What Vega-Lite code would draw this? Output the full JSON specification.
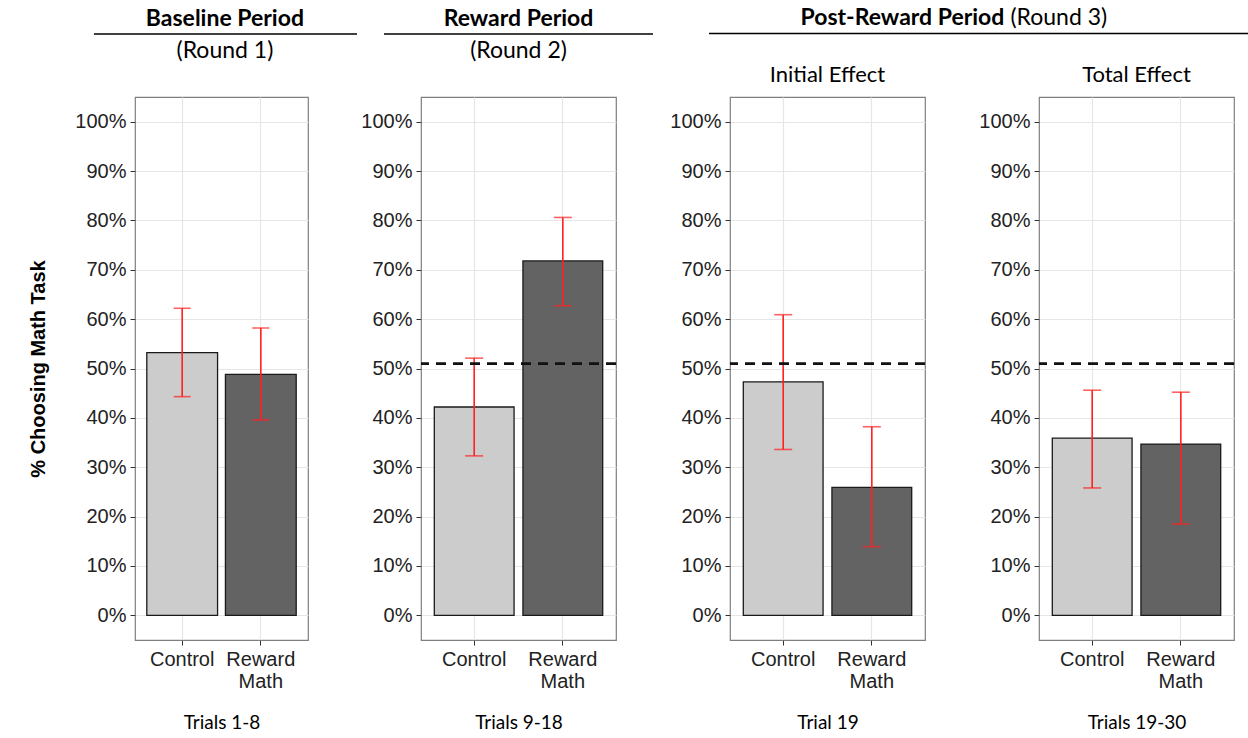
{
  "$schema": "https://vega.github.io/schema/vega-lite/v6.json",
  "padding": {"left": 28, "top": 5, "right": 5, "bottom": 5},
  "background": "white",
  "datasets": {
    "bars": [
      {"panel": "p1", "group": "Control", "pct": 0.532, "lo": 0.443, "hi": 0.622},
      {"panel": "p1", "group": "Reward Math", "pct": 0.488, "lo": 0.396, "hi": 0.582},
      {"panel": "p2", "group": "Control", "pct": 0.422, "lo": 0.323, "hi": 0.521},
      {"panel": "p2", "group": "Reward Math", "pct": 0.718, "lo": 0.627, "hi": 0.806},
      {"panel": "p3", "group": "Control", "pct": 0.473, "lo": 0.336, "hi": 0.609},
      {"panel": "p3", "group": "Reward Math", "pct": 0.259, "lo": 0.139, "hi": 0.382},
      {"panel": "p4", "group": "Control", "pct": 0.359, "lo": 0.258, "hi": 0.456},
      {"panel": "p4", "group": "Reward Math", "pct": 0.347, "lo": 0.185, "hi": 0.452}
    ],
    "baseline": [
      {"panel": "p2", "value": 0.51},
      {"panel": "p3", "value": 0.51},
      {"panel": "p4", "value": 0.51}
    ],
    "one": [{}]
  },
  "config": {
    "font": "Liberation Sans",
    "view": {"stroke": "#7f7f7f", "strokeWidth": 1.2},
    "axis": {
      "domain": false,
      "labelFont": "Liberation Sans",
      "labelFontSize": 20,
      "labelColor": "#222222",
      "tickColor": "#333333",
      "tickSize": 5,
      "tickWidth": 1,
      "labelPadding": 3,
      "gridColor": "#e6e6e6",
      "gridWidth": 1.2
    },
    "title": {"font": "Lato", "fontSize": 22, "fontWeight": "normal", "color": "#000000", "anchor": "middle", "frame": "group", "offset": 10}
  },
  "vconcat": [
    {
      "hconcat": [
        {
          "hconcat": [
            {
              "width": 222, "height": 57,
              "view": {"stroke": null},
              "data": {"name": "one"},
              "layer": [
                {"mark": {"type": "text", "font": "Lato", "fontSize": 23, "fontWeight": "bold", "color": "#000", "baseline": "middle"},
                 "encoding": {"text": {"value": "Baseline Period"}, "x": {"datum": 0.405, "type": "quantitative", "scale": {"domain": [0, 1]}, "axis": null}, "y": {"datum": 0.76, "type": "quantitative", "scale": {"domain": [0, 1]}, "axis": null}}},
                {"mark": {"type": "rule", "color": "#000", "strokeWidth": 1.5},
                 "encoding": {"x": {"datum": -0.185, "type": "quantitative", "scale": {"domain": [0, 1]}, "axis": null}, "x2": {"datum": 1}, "y": {"datum": 0.49, "type": "quantitative", "scale": {"domain": [0, 1]}, "axis": null}}},
                {"mark": {"type": "text", "font": "Lato", "fontSize": 23, "color": "#000", "baseline": "middle"},
                 "encoding": {"text": {"value": "(Round 1)"}, "x": {"datum": 0.405, "type": "quantitative", "scale": {"domain": [0, 1]}, "axis": null}, "y": {"datum": 0.2, "type": "quantitative", "scale": {"domain": [0, 1]}, "axis": null}}}
              ]
            },
            {
              "width": 269, "height": 57,
              "view": {"stroke": null},
              "data": {"name": "one"},
              "layer": [
                {"mark": {"type": "text", "font": "Lato", "fontSize": 23, "fontWeight": "bold", "color": "#000", "baseline": "middle"},
                 "encoding": {"text": {"value": "Reward Period"}, "x": {"datum": 0.5, "type": "quantitative", "scale": {"domain": [0, 1]}, "axis": null}, "y": {"datum": 0.76, "type": "quantitative", "scale": {"domain": [0, 1]}, "axis": null}}},
                {"mark": {"type": "rule", "color": "#000", "strokeWidth": 1.5},
                 "encoding": {"x": {"datum": 0, "type": "quantitative", "scale": {"domain": [0, 1]}, "axis": null}, "x2": {"datum": 1}, "y": {"datum": 0.49, "type": "quantitative", "scale": {"domain": [0, 1]}, "axis": null}}},
                {"mark": {"type": "text", "font": "Lato", "fontSize": 23, "color": "#000", "baseline": "middle"},
                 "encoding": {"text": {"value": "(Round 2)"}, "x": {"datum": 0.5, "type": "quantitative", "scale": {"domain": [0, 1]}, "axis": null}, "y": {"datum": 0.2, "type": "quantitative", "scale": {"domain": [0, 1]}, "axis": null}}}
              ]
            }
          ],
          "spacing": 25
        },
        {
          "width": 542, "height": 57,
          "view": {"stroke": null},
          "data": {"name": "one"},
          "layer": [
            {"mark": {"type": "text", "font": "Lato", "fontSize": 23, "fontWeight": "bold", "color": "#000", "baseline": "middle", "align": "right"},
             "encoding": {"text": {"value": "Post-Reward Period"}, "x": {"datum": 0.545, "type": "quantitative", "scale": {"domain": [0, 1]}, "axis": null}, "y": {"datum": 0.77, "type": "quantitative", "scale": {"domain": [0, 1]}, "axis": null}}},
            {"mark": {"type": "text", "font": "Lato", "fontSize": 23, "color": "#000", "baseline": "middle", "align": "left", "dx": 6},
             "encoding": {"text": {"value": "(Round 3)"}, "x": {"datum": 0.545, "type": "quantitative", "scale": {"domain": [0, 1]}, "axis": null}, "y": {"datum": 0.77, "type": "quantitative", "scale": {"domain": [0, 1]}, "axis": null}}},
            {"mark": {"type": "rule", "color": "#000", "strokeWidth": 1.5},
             "encoding": {"x": {"datum": 0, "type": "quantitative", "scale": {"domain": [0, 1]}, "axis": null}, "x2": {"datum": 1}, "y": {"datum": 0.5, "type": "quantitative", "scale": {"domain": [0, 1]}, "axis": null}}}
          ]
        }
      ],
      "spacing": 54
    },
    {
      "hconcat": [
        {
          "width": 173, "height": 543,
          "data": {"name": "bars"},
          "transform": [{"filter": "datum.panel == 'p1'"}],
          "layer": [
            {"mark": {"type": "bar", "stroke": "#1a1a1a", "strokeWidth": 1.3},
             "encoding": {
               "x": {"field": "group", "type": "nominal", "sort": ["Control", "Reward Math"], "scale": {"paddingInner": 0.1, "paddingOuter": 0.15},
                     "axis": {"title": "Trials 1-8", "labelAngle": 0, "labelOverlap": false, "labelBound": false, "labelLineHeight": 22, "labelBaseline": "top", "labelPadding": 4, "bandPosition": 0.5, "grid": true, "labelExpr": "datum.label == 'Reward Math' ? ['Reward', 'Math'] : datum.label", "titleFont": "Lato", "titleFontWeight": "normal", "titleFontSize": 19, "titleColor": "#000", "titlePadding": 22}},
               "y": {"field": "pct", "type": "quantitative", "title": "% Choosing Math Task", "scale": {"domain": [-0.05, 1.05], "nice": false, "zero": false},
                     "axis": {"values": [0, 0.05, 0.1, 0.15, 0.2, 0.25, 0.3, 0.35, 0.4, 0.45, 0.5, 0.55, 0.6, 0.65, 0.7, 0.75, 0.8, 0.85, 0.9, 0.95, 1.0],
                              "labelExpr": "round(datum.value*100) % 10 == 0 ? format(datum.value, '.0%') : ''",
                              "tickOpacity": {"condition": {"test": "round(datum.value*100) % 10 != 0", "value": 0}, "value": 1},
                              "gridWidth": {"condition": {"test": "round(datum.value*100) % 10 != 0", "value": 0.6}, "value": 1.2},
                              "gridColor": {"condition": {"test": "round(datum.value*100) % 10 != 0", "value": "#f0f0f0"}, "value": "#e6e6e6"},
                              "labelPadding": 4,
                              "titleFont": "Liberation Sans", "titleFontWeight": "bold", "titleFontSize": 20, "titleColor": "#000", "titlePadding": 26}},
               "y2": {"datum": 0},
               "fill": {"field": "group", "type": "nominal", "scale": {"domain": ["Control", "Reward Math"], "range": ["#cccccc", "#636363"]}, "legend": null}
             }},
            {"mark": {"type": "errorbar", "color": "#ff2020", "thickness": 1.6, "ticks": {"size": 17, "thickness": 1.6, "color": "#ff2020"}},
             "encoding": {
               "x": {"field": "group", "type": "nominal", "sort": ["Control", "Reward Math"]},
               "y": {"field": "lo", "type": "quantitative", "title": "% Choosing Math Task"},
               "y2": {"field": "hi"}
             }}
          ]
        },
        {
          "width": 195, "height": 543,
          "data": {"name": "bars"},
          "transform": [{"filter": "datum.panel == 'p2'"}],
          "layer": [
            {"mark": {"type": "bar", "stroke": "#1a1a1a", "strokeWidth": 1.3},
             "encoding": {
               "x": {"field": "group", "type": "nominal", "sort": ["Control", "Reward Math"], "scale": {"paddingInner": 0.1, "paddingOuter": 0.15},
                     "axis": {"title": "Trials 9-18", "labelAngle": 0, "labelOverlap": false, "labelBound": false, "labelLineHeight": 22, "labelBaseline": "top", "labelPadding": 4, "bandPosition": 0.5, "grid": true, "labelExpr": "datum.label == 'Reward Math' ? ['Reward', 'Math'] : datum.label", "titleFont": "Lato", "titleFontWeight": "normal", "titleFontSize": 19, "titleColor": "#000", "titlePadding": 22}},
               "y": {"field": "pct", "type": "quantitative", "title": null, "scale": {"domain": [-0.05, 1.05], "nice": false, "zero": false},
                     "axis": {"values": [0, 0.05, 0.1, 0.15, 0.2, 0.25, 0.3, 0.35, 0.4, 0.45, 0.5, 0.55, 0.6, 0.65, 0.7, 0.75, 0.8, 0.85, 0.9, 0.95, 1.0],
                              "labelExpr": "round(datum.value*100) % 10 == 0 ? format(datum.value, '.0%') : ''",
                              "tickOpacity": {"condition": {"test": "round(datum.value*100) % 10 != 0", "value": 0}, "value": 1},
                              "gridWidth": {"condition": {"test": "round(datum.value*100) % 10 != 0", "value": 0.6}, "value": 1.2},
                              "gridColor": {"condition": {"test": "round(datum.value*100) % 10 != 0", "value": "#f0f0f0"}, "value": "#e6e6e6"},
                              "labelPadding": 4}},
               "y2": {"datum": 0},
               "fill": {"field": "group", "type": "nominal", "scale": {"domain": ["Control", "Reward Math"], "range": ["#cccccc", "#636363"]}, "legend": null}
             }},
            {"mark": {"type": "errorbar", "color": "#ff2020", "thickness": 1.6, "ticks": {"size": 18, "thickness": 1.6, "color": "#ff2020"}},
             "encoding": {
               "x": {"field": "group", "type": "nominal", "sort": ["Control", "Reward Math"]},
               "y": {"field": "lo", "type": "quantitative", "title": null},
               "y2": {"field": "hi"}
             }},
            {"data": {"name": "baseline"}, "transform": [{"filter": "datum.panel == 'p2'"}],
             "mark": {"type": "rule", "color": "#111111", "strokeWidth": 2.8, "strokeDash": [10, 7]},
             "encoding": {"y": {"field": "value", "type": "quantitative", "title": null}}}
          ]
        },
        {
          "width": 195, "height": 543,
          "title": "Initial Effect",
          "data": {"name": "bars"},
          "transform": [{"filter": "datum.panel == 'p3'"}],
          "layer": [
            {"mark": {"type": "bar", "stroke": "#1a1a1a", "strokeWidth": 1.3},
             "encoding": {
               "x": {"field": "group", "type": "nominal", "sort": ["Control", "Reward Math"], "scale": {"paddingInner": 0.1, "paddingOuter": 0.15},
                     "axis": {"title": "Trial 19", "labelAngle": 0, "labelOverlap": false, "labelBound": false, "labelLineHeight": 22, "labelBaseline": "top", "labelPadding": 4, "bandPosition": 0.5, "grid": true, "labelExpr": "datum.label == 'Reward Math' ? ['Reward', 'Math'] : datum.label", "titleFont": "Lato", "titleFontWeight": "normal", "titleFontSize": 19, "titleColor": "#000", "titlePadding": 22}},
               "y": {"field": "pct", "type": "quantitative", "title": null, "scale": {"domain": [-0.05, 1.05], "nice": false, "zero": false},
                     "axis": {"values": [0, 0.05, 0.1, 0.15, 0.2, 0.25, 0.3, 0.35, 0.4, 0.45, 0.5, 0.55, 0.6, 0.65, 0.7, 0.75, 0.8, 0.85, 0.9, 0.95, 1.0],
                              "labelExpr": "round(datum.value*100) % 10 == 0 ? format(datum.value, '.0%') : ''",
                              "tickOpacity": {"condition": {"test": "round(datum.value*100) % 10 != 0", "value": 0}, "value": 1},
                              "gridWidth": {"condition": {"test": "round(datum.value*100) % 10 != 0", "value": 0.6}, "value": 1.2},
                              "gridColor": {"condition": {"test": "round(datum.value*100) % 10 != 0", "value": "#f0f0f0"}, "value": "#e6e6e6"},
                              "labelPadding": 4}},
               "y2": {"datum": 0},
               "fill": {"field": "group", "type": "nominal", "scale": {"domain": ["Control", "Reward Math"], "range": ["#cccccc", "#636363"]}, "legend": null}
             }},
            {"mark": {"type": "errorbar", "color": "#ff2020", "thickness": 1.6, "ticks": {"size": 18, "thickness": 1.6, "color": "#ff2020"}},
             "encoding": {
               "x": {"field": "group", "type": "nominal", "sort": ["Control", "Reward Math"]},
               "y": {"field": "lo", "type": "quantitative", "title": null},
               "y2": {"field": "hi"}
             }},
            {"data": {"name": "baseline"}, "transform": [{"filter": "datum.panel == 'p3'"}],
             "mark": {"type": "rule", "color": "#111111", "strokeWidth": 2.8, "strokeDash": [10, 7]},
             "encoding": {"y": {"field": "value", "type": "quantitative", "title": null}}}
          ]
        },
        {
          "width": 195, "height": 543,
          "title": "Total Effect",
          "data": {"name": "bars"},
          "transform": [{"filter": "datum.panel == 'p4'"}],
          "layer": [
            {"mark": {"type": "bar", "stroke": "#1a1a1a", "strokeWidth": 1.3},
             "encoding": {
               "x": {"field": "group", "type": "nominal", "sort": ["Control", "Reward Math"], "scale": {"paddingInner": 0.1, "paddingOuter": 0.15},
                     "axis": {"title": "Trials 19-30", "labelAngle": 0, "labelOverlap": false, "labelBound": false, "labelLineHeight": 22, "labelBaseline": "top", "labelPadding": 4, "bandPosition": 0.5, "grid": true, "labelExpr": "datum.label == 'Reward Math' ? ['Reward', 'Math'] : datum.label", "titleFont": "Lato", "titleFontWeight": "normal", "titleFontSize": 19, "titleColor": "#000", "titlePadding": 22}},
               "y": {"field": "pct", "type": "quantitative", "title": null, "scale": {"domain": [-0.05, 1.05], "nice": false, "zero": false},
                     "axis": {"values": [0, 0.05, 0.1, 0.15, 0.2, 0.25, 0.3, 0.35, 0.4, 0.45, 0.5, 0.55, 0.6, 0.65, 0.7, 0.75, 0.8, 0.85, 0.9, 0.95, 1.0],
                              "labelExpr": "round(datum.value*100) % 10 == 0 ? format(datum.value, '.0%') : ''",
                              "tickOpacity": {"condition": {"test": "round(datum.value*100) % 10 != 0", "value": 0}, "value": 1},
                              "gridWidth": {"condition": {"test": "round(datum.value*100) % 10 != 0", "value": 0.6}, "value": 1.2},
                              "gridColor": {"condition": {"test": "round(datum.value*100) % 10 != 0", "value": "#f0f0f0"}, "value": "#e6e6e6"},
                              "labelPadding": 4}},
               "y2": {"datum": 0},
               "fill": {"field": "group", "type": "nominal", "scale": {"domain": ["Control", "Reward Math"], "range": ["#cccccc", "#636363"]}, "legend": null}
             }},
            {"mark": {"type": "errorbar", "color": "#ff2020", "thickness": 1.6, "ticks": {"size": 18, "thickness": 1.6, "color": "#ff2020"}},
             "encoding": {
               "x": {"field": "group", "type": "nominal", "sort": ["Control", "Reward Math"]},
               "y": {"field": "lo", "type": "quantitative", "title": null},
               "y2": {"field": "hi"}
             }},
            {"data": {"name": "baseline"}, "transform": [{"filter": "datum.panel == 'p4'"}],
             "mark": {"type": "rule", "color": "#111111", "strokeWidth": 2.8, "strokeDash": [10, 7]},
             "encoding": {"y": {"field": "value", "type": "quantitative", "title": null}}}
          ]
        }
      ],
      "spacing": 51
    }
  ],
  "spacing": 0
}
